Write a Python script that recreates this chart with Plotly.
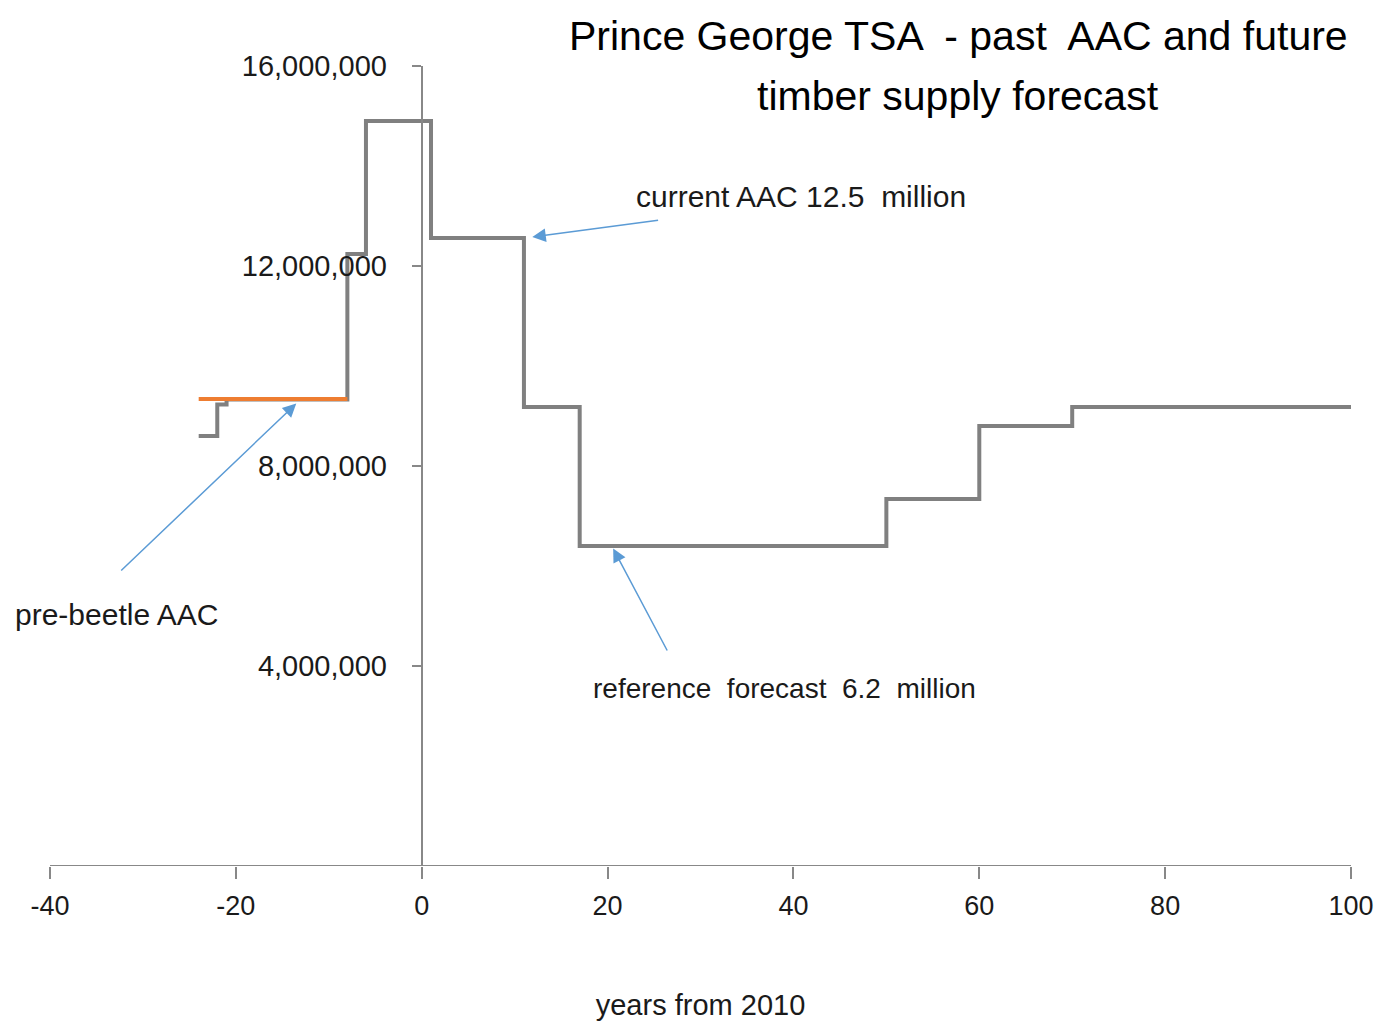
import plotly.graph_objects as go

# Gray step line: timber supply (past AAC + reference forecast)
supply_years = [-24, -22, -22, -21, -21, -8, -8, -6, -6, 1, 1, 11, 11, 17, 17, 50, 50, 60, 60, 70, 70, 100]
supply_vals = [8600000, 8600000, 9230000, 9230000, 9330000, 9330000, 12240000, 12240000,
               14900000, 14900000, 12560000, 12560000, 9180000, 9180000, 6400000, 6400000,
               7340000, 7340000, 8800000, 8800000, 9180000, 9180000]

# Orange pre-beetle AAC
prebeetle_years = [-24, -8]
prebeetle_vals = [9340000, 9340000]

x_ticks = [-40, -20, 0, 20, 40, 60, 80, 100]
x_tick_labels = ["-40", "-20", "0", "20", "40", "60", "80", "100"]
y_ticks = [4000000, 8000000, 12000000, 16000000]
y_tick_labels = ["4,000,000", "8,000,000", "12,000,000", "16,000,000"]

FONT = "Liberation Sans, Arial, sans-serif"
TXT = "#1a1a1a"
ARROW = "#5b9bd5"

fig = go.Figure()
fig.add_trace(go.Scatter(x=supply_years, y=supply_vals, mode="lines",
                         line=dict(color="#808080", width=4), showlegend=False))
fig.add_trace(go.Scatter(x=prebeetle_years, y=prebeetle_vals, mode="lines",
                         line=dict(color="#ee7d31", width=4), showlegend=False))

arrows = [
    dict(x=11.9, y=12580000, ax=25.6, ay=12920000),
    dict(x=-13.5, y=9250000, ax=-32.5, ay=5880000),
    dict(x=20.6, y=6350000, ax=26.5, ay=4280000),
]
ann = []
for a in arrows:
    ann.append(dict(x=a["x"], y=a["y"], ax=a["ax"], ay=a["ay"], xref="x", yref="y",
                    axref="x", ayref="y", text="", showarrow=True, arrowhead=2,
                    arrowsize=1.8, arrowwidth=1.5, arrowcolor=ARROW))
ann += [
    dict(x=40.8, y=13400000, xref="x", yref="y", text="current AAC 12.5  million",
         showarrow=False, font=dict(family=FONT, size=30, color=TXT)),
    dict(x=-32.8, y=5040000, xref="x", yref="y", text="pre-beetle AAC",
         showarrow=False, font=dict(family=FONT, size=30, color=TXT)),
    dict(x=39.0, y=3560000, xref="x", yref="y", text="reference  forecast  6.2  million",
         showarrow=False, font=dict(family=FONT, size=28, color=TXT)),
    dict(x=(958 - 50) / 1301, y=(866 - 36) / 800, xref="paper", yref="paper",
         yanchor="middle", xanchor="center",
         text="Prince George TSA  - past  AAC and future",
         showarrow=False, font=dict(family=FONT, size=41, color="black")),
    dict(x=(958 - 50) / 1301, y=(866 - 96) / 800, xref="paper", yref="paper",
         yanchor="middle", xanchor="center",
         text="timber supply forecast",
         showarrow=False, font=dict(family=FONT, size=41, color="black")),
]

fig.update_layout(
    width=1377, height=1021,
    margin=dict(l=50, r=26, t=66, b=155),
    plot_bgcolor="white", paper_bgcolor="white",
    font=dict(family=FONT, color=TXT),
    annotations=ann,
    xaxis=dict(range=[-40, 100], tickvals=x_ticks, ticktext=x_tick_labels,
               ticks="outside", ticklen=12, tickwidth=2, automargin=False,
               tickcolor="#888", showgrid=False, zeroline=False, showline=False,
               ticklabeloverflow="allow", ticklabelstandoff=4,
               tickfont=dict(family=FONT, size=27, color=TXT),
               title=dict(text="years from 2010", font=dict(family=FONT, size=29, color=TXT),
                          standoff=75),
               anchor="y"),
    yaxis=dict(range=[0, 16000000], tickvals=y_ticks, ticktext=y_tick_labels,
               ticks="outside", ticklen=9, tickwidth=2, tickcolor="#888", showgrid=False,
               zeroline=False, showline=True, linecolor="#888", linewidth=2,
               ticklabelstandoff=19, automargin=False,
               tickfont=dict(family=FONT, size=29, color=TXT),
               anchor="free", position=40 / 140),
    shapes=[dict(type="line", xref="x", yref="y", x0=-40, x1=100, y0=0, y1=0,
                 line=dict(color="#888", width=2))],
)
fig.write_html("out.html", config={"displayModeBar": False},
               post_script="document.body.style.margin='0';document.body.style.overflow='hidden';")
